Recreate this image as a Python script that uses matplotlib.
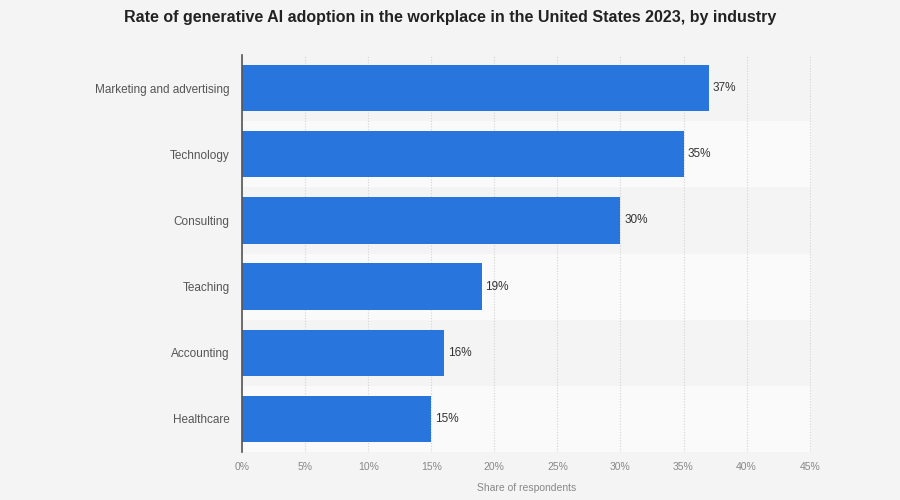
import matplotlib.pyplot as plt
import numpy as np

plt.rcParams['font.family'] = ['Liberation Sans', 'DejaVu Sans']

industries = ["Marketing and advertising", "Technology", "Consulting",
              "Teaching", "Accounting", "Healthcare"]
shares = [37, 35, 30, 19, 16, 15]
xticks = [0, 5, 10, 15, 20, 25, 30, 35, 40, 45]

BG = "#f4f4f4"
BAND = "#fafafa"
BAR = "#2876dd"

fig = plt.figure(figsize=(9, 5), dpi=100, facecolor=BG)
ax = fig.add_axes([0.269, 0.096, 0.632, 0.794])
ax.set_facecolor(BG)

y = np.arange(len(industries))
# alternating row bands
for i in y:
    if i % 2 == 1:
        ax.axhspan(i - 0.5, i + 0.5, color=BAND, zorder=0, lw=0)

ax.barh(y, shares, height=0.7, color=BAR, zorder=3)
for yi, v in zip(y, shares):
    ax.text(v + 0.3, yi, f"{v}%", va="center", ha="left",
            fontsize=8.5, color="#333333", zorder=4)

ax.set_xlim(0, 45.1)
ax.set_ylim(len(industries) - 0.5, -0.5)
ax.set_yticks(y)
ax.set_yticklabels(industries, fontsize=8.5, color="#555555")
ax.set_xticks(xticks)
ax.set_xticklabels([f"{t}%" for t in xticks], fontsize=7.5, color="#888888")
ax.tick_params(axis="x", length=0, pad=7)
ax.tick_params(axis="y", length=0, pad=9)

ax.grid(axis="x", linestyle=(0, (1, 1.5)), color="#d4d4d4", linewidth=0.8, zorder=1)
for s in ["top", "right", "bottom"]:
    ax.spines[s].set_visible(False)
ax.spines["left"].set_color("#555555")
ax.spines["left"].set_linewidth(1.2)
ax.spines["left"].set_zorder(5)

ax.set_xlabel("Share of respondents", fontsize=7.5, color="#888888", labelpad=8)
fig.text(0.5, 0.965, "Rate of generative AI adoption in the workplace in the United States 2023, by industry",
         ha="center", va="center", fontsize=11.5, fontweight="bold", color="#222222")

fig.savefig("out.png", dpi=100, facecolor=BG)
